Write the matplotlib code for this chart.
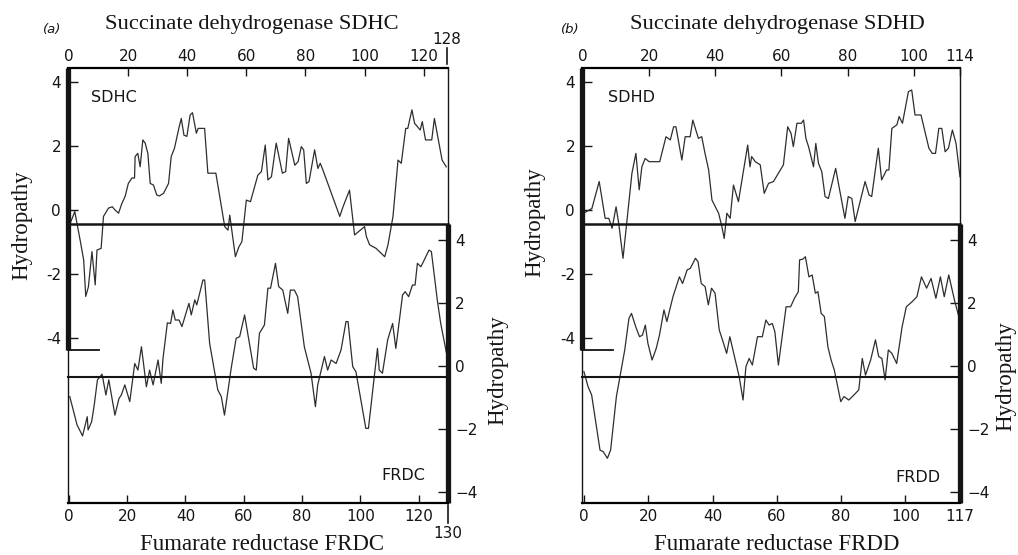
import matplotlib
matplotlib.use("Agg")
import matplotlib.pyplot as plt
from matplotlib.lines import Line2D

# ---- data (residue number, hydropathy) ----
sdhc_pos = [0.5, 2, 2.7, 3.8, 5, 5.7, 6.6, 7.8, 8.9, 9.5, 10.9, 11.7, 13.4, 14.7, 15.6, 16.8,
            17.9, 19, 20.1, 21.3, 22.2, 22.4, 23.3, 24.1, 25, 25.8, 26.7, 27.5, 28.6, 29.7,
            30.6, 32, 33.7, 34.6, 35.7, 37.3, 38, 38.9, 39.9, 41, 41.8, 43.1, 43.7, 45.9, 47,
            49.7, 52.7, 53.8, 54.4, 56.3, 57.5, 58.5, 60, 61.4, 63.9, 65.1, 66.4, 67.3, 68.5,
            70.1, 72.2, 73.3, 74.3, 76.4, 77.5, 78.6, 79.4, 80.3, 81.2, 83.1, 84.2, 85, 85.9,
            91.6, 92.7, 94.9, 96.6, 100, 100.6, 101.7, 103.9, 106.8, 107.9, 109.6, 111.3,
            112.4, 113.9, 114.6, 116, 116.9, 118.8, 119.5, 120.6, 122.7, 123.6, 126.2, 127.6]
sdhc_val = [-0.4, -0.05, -0.4, -0.94, -1.56, -2.7, -2.4, -1.3, -2.34, -1.25, -1.2, -0.2, 0.06,
            0.1, 0.0, -0.1, 0.2, 0.42, 0.83, 1.0, 1.0, 1.67, 1.77, 1.35, 2.19, 2.09, 1.77, 0.83,
            0.78, 0.47, 0.44, 0.52, 0.83, 1.67, 1.93, 2.6, 2.86, 2.34, 2.3, 2.97, 3.04, 2.4,
            2.55, 2.55, 1.15, 1.15, -0.52, -0.63, -0.16, -1.46, -1.15, -0.99, 0.31, 0.26, 1.09,
            1.2, 2.03, 0.94, 1.04, 2.09, 1.15, 1.2, 2.24, 1.4, 1.51, 1.98, 1.88, 0.83, 0.89,
            1.88, 1.3, 1.46, 1.25, -0.2, 0.1, 0.62, -0.78, -0.52, -0.83, -1.09, -1.2, -1.46,
            -1.09, -0.2, 1.56, 1.46, 2.55, 2.55, 3.13, 2.71, 2.5, 2.76, 2.19, 2.19, 2.86, 1.56,
            1.35]

frdc_pos = [0.3, 1.5, 2.8, 4.7, 6.3, 6.6, 7.8, 8.7, 9.8, 11.4, 12.7, 13.7, 15.8, 17.2, 18,
            19.2, 20.9, 22.6, 23.7, 24.9, 26.6, 27.7, 28.9, 30.6, 31.7, 32.3, 33.8, 34.9, 35.7,
            36.5, 37.8, 38.8, 41.2, 42, 43.2, 43.9, 46, 46.6, 48.3, 51.1, 52.3, 53.4, 55.7,
            57.4, 58.6, 60.3, 63.4, 64.3, 65.4, 67.1, 68.3, 69.2, 70.9, 72, 73.4, 75.1, 76,
            77.4, 78.5, 80.8, 83.1, 84.6, 85.4, 87.7, 88.8, 90, 91.7, 93.4, 95.1, 95.8, 97.4,
            98.5, 101.9, 102.8, 105.9, 106.5, 107.6, 109.4, 111.1, 112.2, 114.5, 115.4, 116.6,
            117.9, 118.8, 119.6, 120.8, 123.6, 124.4, 126.5, 127.6, 129.6]
frdc_val = [-0.97, -1.4, -1.87, -2.22, -1.61, -2.03, -1.77, -1.24, -0.44, -0.26, -0.92, -0.44,
            -1.56, -1.03, -0.92, -0.6, -1.13, 0.08, -0.13, 0.61, -0.66, -0.13, -0.6, 0.19,
            -0.55, 0.24, 1.37, 1.35, 1.78, 1.46, 1.46, 1.25, 1.99, 1.62, 2.1, 1.94, 2.73, 2.73,
            0.72, -0.76, -0.97, -1.56, -0.07, 0.88, 0.93, 1.62, -0.07, -0.13, 1.04, 1.3, 2.47,
            2.47, 3.26, 2.52, 2.41, 1.67, 2.41, 2.41, 2.2, 0.61, -0.23, -1.29, -0.6, 0.3,
            -0.13, 0.19, 0.08, 0.51, 1.41, 1.41, -0.02, -0.18, -1.98, -1.98, 0.56, -0.13,
            -0.23, 0.83, 1.35, 0.56, 2.25, 2.36, 2.2, 2.57, 2.57, 3.26, 3.15, 3.68, 3.63, 2.04,
            1.35, 0.4]

sdhd_pos = [0.2, 2.7, 4.9, 6.7, 7.8, 8.8, 10, 10.8, 12.1, 14.8, 16, 17, 17.8, 18.8, 20, 21.7,
            23.2, 25.1, 26.4, 27.4, 28.1, 29.9, 30.9, 32.4, 33.2, 34.9, 35.9, 36.9, 38, 39, 41,
            42, 42.7, 43.5, 44.5, 45.5, 47, 49.8, 50.5, 51, 52.1, 53.6, 54.8, 56.1, 57.6, 60.6,
            61.9, 62.9, 63.6, 64.7, 66, 66.7, 67.4, 68.2, 69.7, 70.4, 71.2, 72.2, 73.2, 74.2,
            76.4, 79.2, 80.2, 81.3, 82.3, 85.3, 86.5, 87.3, 89.3, 90.3, 91.8, 92.5, 93.4, 94.9,
            95.6, 96.6, 98.4, 99.4, 100.4, 102.2, 104.6, 105.6, 106.6, 107.6, 108.5, 109.5,
            110.5, 111.7, 112.8, 114]
sdhd_val = [-0.1, 0.05, 0.89, -0.26, -0.26, -0.57, 0.1, -0.42, -1.51, 1.15, 1.77, 0.63, 1.35,
            1.61, 1.51, 1.51, 1.51, 2.29, 2.19, 2.6, 2.6, 1.56, 2.29, 2.29, 2.81, 2.24, 2.29,
            1.77, 1.25, 0.31, -0.1, -0.52, -0.89, -0.1, -0.26, 0.78, 0.26, 2.03, 1.35, 1.67,
            1.51, 1.41, 0.52, 0.83, 0.89, 1.41, 2.6, 2.4, 1.98, 2.71, 2.71, 2.81, 2.24, 1.98,
            1.35, 2.08, 1.46, 1.2, 0.42, 0.36, 1.3, -0.26, 0.42, 0.36, -0.36, 0.89, 0.47, 0.42,
            1.93, 0.94, 1.25, 1.25, 2.55, 2.66, 2.92, 2.71, 3.7, 3.75, 2.97, 2.97, 1.93, 1.77,
            1.77, 2.55, 2.55, 1.82, 1.93, 2.5, 2.08, 1.04]

frdd_pos = [0, 1.3, 2.4, 5, 6, 7.3, 8.3, 10.1, 12.7, 14, 14.8, 16.1, 17.3, 18.2, 19.1, 19.9,
            21.2, 22.5, 23.5, 24.9, 25.8, 27.7, 29.7, 30.7, 32.1, 33.1, 34.7, 35.5, 36.5, 37.7,
            38.7, 39.7, 40.8, 42.1, 43.1, 44.4, 45.4, 48.3, 49.5, 50.4, 51.4, 52.4, 54, 55.5,
            56.6, 57.6, 58.6, 59.4, 60.5, 62.9, 64.3, 65.5, 66.7, 67.1, 68.1, 68.9, 70, 71, 72,
            72.8, 73.8, 74.8, 75.9, 76.9, 77.9, 79.9, 80.9, 82.4, 84, 85.5, 86.6, 87.6, 89.2,
            90.7, 91.7, 92.7, 93.7, 94.7, 95.8, 97.3, 99, 100.3, 102.1, 103.6, 105, 106.6, 108,
            109.5, 110.9, 112.1, 113.5, 115.4, 116.5]
frdd_val = [-0.18, -0.66, -0.92, -2.67, -2.72, -2.93, -2.67, -0.97, 0.51, 1.51, 1.67, 1.25,
            0.93, 0.98, 1.3, 0.72, 0.19, 0.56, 0.98, 1.78, 1.41, 2.2, 2.83, 2.62, 3.05, 3.1,
            3.42, 3.31, 2.62, 2.52, 1.94, 2.47, 2.31, 1.14, 0.83, 0.4, 0.93, -0.34, -1.08,
            -0.02, 0.24, 0.03, 0.93, 0.93, 1.46, 1.3, 1.35, 1.09, 0.03, 1.88, 1.88, 2.15, 2.36,
            3.37, 3.39, 3.47, 2.83, 2.89, 2.31, 2.36, 1.67, 1.57, 0.61, 0.19, -0.13, -1.13,
            -0.97, -1.08, -0.92, -0.76, 0.24, -0.29, 0.19, 0.83, 0.3, 0.24, -0.44, 0.51, 0.4,
            0.08, 1.25, 1.88, 2.04, 2.2, 2.83, 2.47, 2.78, 2.15, 2.83, 2.2, 2.89, 2.04, 1.62]

hyd_ticks = [-4, -2, 0, 2, 4]
left_labels = ["-4", "-2", "0", "2", "4"]
right_labels = ["\u22124", "\u22122", "0", "2", "4"]

W, H = 1018, 555
SERIF = "Liberation Serif"
SANS = "DejaVu Sans"
INK = "#151515"
CURVE = "#2e2e2e"
TICK_FS = 11

# frame rows (pixels from the top of the image)
TOP, BOT, MID, STUB = 68, 503, 224, 350
T_ZERO, T_SCALE = 210, 32.0     # upper (succinate dehydrogenase) trace
B_ZERO, B_SCALE = 366, 31.5     # lower (fumarate reductase) trace
BASE = 377


def fx(px):
    return px / W


def fy(py):
    return 1 - py / H


def frac(py):
    return (BOT - py) / (BOT - TOP)


def panel(fig, x0, x1, up, low):
    pos = [fx(x0), fy(BOT), (x1 - x0) / W, (BOT - TOP) / H]
    ax_t = fig.add_axes(pos)
    ax_b = fig.add_axes(pos)
    ax_b.patch.set_visible(False)

    ax_t.set_ylim((T_ZERO - BOT) / T_SCALE, (T_ZERO - TOP) / T_SCALE)
    ax_b.set_ylim((B_ZERO - BOT) / B_SCALE, (B_ZERO - TOP) / B_SCALE)
    ax_t.set_xlim(*up["xlim"])
    ax_b.set_xlim(*low["xlim"])

    ax_t.plot(up["pos"], up["val"], color=CURVE, lw=0.9, clip_on=False)
    ax_b.plot(low["pos"], low["val"], color=CURVE, lw=0.9, clip_on=False)

    for ax in (ax_t, ax_b):
        for s in ax.spines.values():
            s.set_visible(False)
    ax_t.spines["top"].set_visible(True)
    ax_t.spines["top"].set_linewidth(1.6)
    ax_b.spines["bottom"].set_visible(True)
    ax_b.spines["bottom"].set_linewidth(1.6)

    # ticks
    ax_t.xaxis.tick_top()
    ax_t.set_xticks(up["ticks"])
    ax_t.set_xticklabels([str(t) for t in up["ticks"]], family=SANS)
    ax_t.tick_params(axis="x", direction="in", length=6, width=1, pad=3,
                     labelsize=TICK_FS, colors=INK)
    ax_t.set_yticks(hyd_ticks)
    ax_t.set_yticklabels(left_labels, family=SANS)
    ax_t.tick_params(axis="y", direction="in", length=7, width=1, pad=5,
                     labelsize=TICK_FS, colors=INK, left=True, right=False)

    ax_b.set_xticks(low["ticks"])
    ax_b.set_xticklabels([str(t) for t in low["ticks"]], family=SANS)
    ax_b.tick_params(axis="x", direction="in", length=6, width=1, pad=4,
                     labelsize=TICK_FS, colors=INK)
    ax_b.yaxis.tick_right()
    ax_b.set_yticks(hyd_ticks)
    ax_b.set_yticklabels(right_labels, family=SANS)
    ax_b.tick_params(axis="y", direction="in", length=7, width=1, pad=5,
                     labelsize=TICK_FS, colors=INK, left=False, right=True)

    # frame pieces
    xl, xr = ax_t.get_xlim()
    ax_t.axvline(xl, ymin=frac(STUB), ymax=1, lw=3.8, color=INK, clip_on=False,
                 solid_capstyle="butt")
    ax_t.axvline(xr, ymin=frac(MID), ymax=1, lw=1.0, color=INK, clip_on=False)
    ax_t.axhline((T_ZERO - MID) / T_SCALE, lw=1.8, color=INK, clip_on=False)
    ax_t.axhline((T_ZERO - STUB) / T_SCALE, xmin=0, xmax=31 / (x1 - x0), lw=1.3,
                 color=INK, clip_on=False)
    bl, br = ax_b.get_xlim()
    ax_b.axvline(br, ymin=0, ymax=frac(MID), lw=3.8, color=INK, clip_on=False,
                 solid_capstyle="butt")
    ax_b.axvline(bl, ymin=0, ymax=frac(MID), lw=1.0, color=INK, clip_on=False)
    ax_b.axhline((B_ZERO - BASE) / B_SCALE, lw=1.5, color=INK, clip_on=False)
    return ax_t, ax_b


fig = plt.figure(figsize=(W / 100, H / 100), dpi=100)

panel(fig, 68, 448,
      dict(pos=sdhc_pos, val=sdhc_val, xlim=(-0.3, 128.2), ticks=[0, 20, 40, 60, 80, 100, 120]),
      dict(pos=frdc_pos, val=frdc_val, xlim=(-0.3, 130.1), ticks=[0, 20, 40, 60, 80, 100, 120]))
panel(fig, 582, 960,
      dict(pos=sdhd_pos, val=sdhd_val, xlim=(-0.3, 114), ticks=[0, 20, 40, 60, 80, 100, 114]),
      dict(pos=frdd_pos, val=frdd_val, xlim=(-0.6, 117), ticks=[0, 20, 40, 60, 80, 100, 117]))

# end-of-sequence markers for panel (a)
fig.text(fx(447), fy(39), "128", ha="center", va="center", family=SANS, fontsize=TICK_FS,
         color=INK)
fig.add_artist(Line2D([fx(447)] * 2, [fy(48), fy(64)], color=INK, lw=1.2))
fig.text(fx(448), fy(533), "130", ha="center", va="center", family=SANS, fontsize=TICK_FS,
         color=INK)
fig.add_artist(Line2D([fx(448)] * 2, [fy(505), fy(523)], color=INK, lw=1.2))

# panel texts
for lab, x in (("(a)", 52), ("(b)", 570)):
    fig.text(fx(x), fy(29), lab, ha="center", va="center", family=SANS, style="italic",
             fontsize=9.5, color=INK)
for t, x in (("Succinate dehydrogenase SDHC", 252), ("Succinate dehydrogenase SDHD", 777)):
    fig.text(fx(x), fy(24), t, ha="center", va="center", family=SERIF, fontsize=16.2, color=INK)
for t, x in (("Fumarate reductase FRDC", 262), ("Fumarate reductase FRDD", 777)):
    fig.text(fx(x), fy(544), t, ha="center", va="center", family=SERIF, fontsize=16.5, color=INK)
for x, y in ((22, 225), (498, 370), (535, 222), (1006, 376)):
    fig.text(fx(x), fy(y), "Hydropathy", ha="center", va="center", rotation=90,
             family=SERIF, fontsize=16.5, color=INK)
for t, x, y in (("SDHC", 91, 97), ("FRDC", 381, 475), ("SDHD", 608, 97), ("FRDD", 895, 477)):
    fig.text(fx(x), fy(y), t, ha="left", va="center", family=SANS, fontsize=11.5,
             color=INK)

fig.savefig("out.png", dpi=100)
